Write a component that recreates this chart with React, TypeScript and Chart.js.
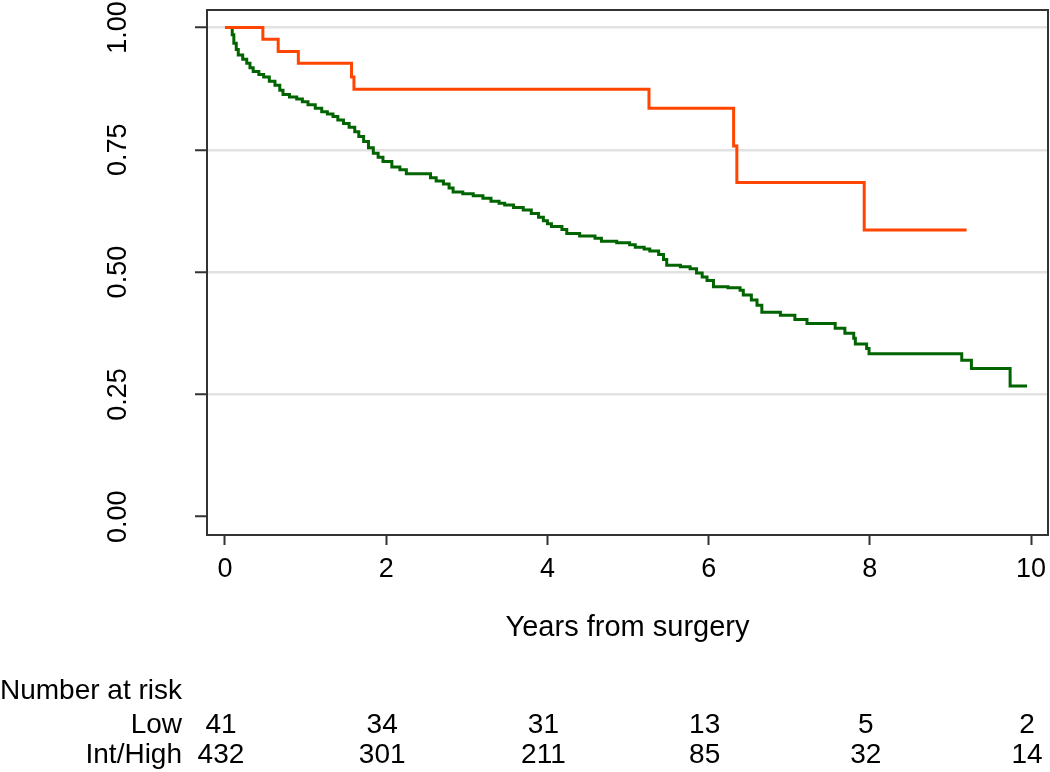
import React, { useEffect, useRef } from "react";
import { Chart, registerables } from "chart.js";

Chart.register(...registerables);

// Kaplan-Meier curve: Low risk group
const lowTimes = [0, 0.47, 0.66, 0.91, 1.57, 1.6, 5.26, 6.31, 6.35, 7.93, 9.2];
const lowSurv = [1, 0.976, 0.951, 0.927, 0.899, 0.874, 0.835, 0.758, 0.683, 0.586, 0.586];

// Kaplan-Meier curve: Int/High risk group
const highTimes = [
  0, 0.09, 0.11, 0.14, 0.165, 0.22, 0.27, 0.31, 0.35, 0.42, 0.48, 0.55, 0.62, 0.68, 0.72,
  0.8, 0.89, 0.96, 1.03, 1.12, 1.2, 1.27, 1.34, 1.4, 1.47, 1.54, 1.61, 1.66, 1.72, 1.78,
  1.84, 1.9, 1.96, 2.07, 2.17, 2.25, 2.55, 2.62, 2.71, 2.78, 2.83, 2.95, 3.08, 3.2, 3.3,
  3.4, 3.47, 3.58, 3.7, 3.8, 3.89, 3.95, 4.0, 4.05, 4.18, 4.24, 4.4, 4.59, 4.67, 4.86,
  5.02, 5.09, 5.2, 5.27, 5.38, 5.44, 5.48, 5.65, 5.77, 5.85, 5.92, 5.98, 6.06, 6.24, 6.39,
  6.43, 6.53, 6.6, 6.66, 6.89, 7.07, 7.22, 7.57, 7.69, 7.8, 7.82, 7.96, 7.99, 9.14, 9.26,
  9.74, 9.95,
];
const highSurv = [
  1, 0.985, 0.968, 0.955, 0.944, 0.935, 0.927, 0.918, 0.91, 0.904, 0.899, 0.89, 0.882, 0.872, 0.863,
  0.858, 0.854, 0.848, 0.842, 0.835, 0.828, 0.823, 0.818, 0.811, 0.804, 0.796, 0.787, 0.777, 0.767, 0.754,
  0.743, 0.735, 0.726, 0.715, 0.709, 0.701, 0.693, 0.686, 0.68, 0.672, 0.664, 0.66, 0.656, 0.651, 0.645,
  0.641, 0.637, 0.632, 0.627, 0.62, 0.612, 0.605, 0.599, 0.593, 0.587, 0.579, 0.574, 0.569, 0.563, 0.56,
  0.556, 0.551, 0.547, 0.543, 0.536, 0.526, 0.514, 0.511, 0.507, 0.498, 0.49, 0.483, 0.47, 0.468, 0.463,
  0.453, 0.443, 0.432, 0.418, 0.412, 0.403, 0.395, 0.385, 0.375, 0.365, 0.353, 0.344, 0.333, 0.32, 0.303,
  0.267, 0.267,
];

const xTicks = [0, 2, 4, 6, 8, 10];
const yTicks = [0, 0.25, 0.5, 0.75, 1];

const riskTitle = "Number at risk";
const riskGroups = ["Low", "Int/High"];
const riskTimes = [0, 2, 4, 6, 8, 10];
const riskLow = [41, 34, 31, 13, 5, 2];
const riskHigh = [432, 301, 211, 85, 32, 14];

const FONT = '"Liberation Sans", Arial, Helvetica, sans-serif';

export default function App() {
  const ref = useRef<HTMLCanvasElement | null>(null);

  useEffect(() => {
    if (!ref.current) return;
    Chart.defaults.font.family = FONT;

    const extras = {
      id: "extras",
      afterDraw(chart: any) {
        const { ctx, chartArea: a, scales } = chart;
        ctx.save();
        ctx.strokeStyle = "#333333";
        ctx.lineWidth = 2;
        ctx.strokeRect(a.left, a.top, a.right - a.left, a.bottom - a.top);

        ctx.fillStyle = "#000000";
        ctx.font = `28px ${FONT}`;
        ctx.textBaseline = "middle";
        ctx.textAlign = "left";
        ctx.fillText(riskTitle, 0, 691);
        ctx.textAlign = "right";
        ctx.fillText(riskGroups[0], 182, 725);
        ctx.fillText(riskGroups[1], 182, 755);
        ctx.textAlign = "center";
        riskTimes.forEach((t, i) => {
          const x = scales.x.getPixelForValue(t) - 4;
          ctx.fillText(String(riskLow[i]), x, 725);
          ctx.fillText(String(riskHigh[i]), x, 755);
        });
        ctx.restore();
      },
    };

    const chart = new Chart(ref.current, {
      type: "line",
      data: {
        datasets: [
          {
            label: "Low",
            data: lowTimes.map((t, i) => ({ x: t, y: lowSurv[i] })),
            borderColor: "rgb(255,69,0)",
            borderWidth: 3,
            pointRadius: 0,
            stepped: true,
            fill: false,
          },
          {
            label: "Int/High",
            data: highTimes.map((t, i) => ({ x: t, y: highSurv[i] })),
            borderColor: "rgb(0,100,0)",
            borderWidth: 3,
            pointRadius: 0,
            stepped: true,
            fill: false,
          },
        ],
      },
      options: {
        responsive: false,
        animation: false,
        devicePixelRatio: 1,
        layout: { padding: { left: 0, right: 2, top: 10, bottom: 0 } },
        plugins: { legend: { display: false }, tooltip: { enabled: false } },
        scales: {
          x: {
            type: "linear",
            min: -0.223,
            max: 10.21,
            afterBuildTicks: (s: any) => {
              s.ticks = xTicks.map((v) => ({ value: v }));
            },
            afterFit: (s: any) => {
              s.height = 237;
              s.paddingLeft = 0;
              s.paddingRight = 0;
            },
            border: { display: false },
            grid: {
              drawOnChartArea: false,
              drawTicks: true,
              tickLength: 10,
              tickColor: "#333333",
              tickWidth: 2,
            },
            ticks: {
              color: "#000000",
              font: { size: 27 },
              padding: 8,
              maxRotation: 0,
              minRotation: 0,
              callback: (v: any) => String(v),
            },
            title: {
              display: true,
              text: "Years from surgery",
              color: "#000000",
              font: { size: 29 },
              padding: { top: 0, bottom: 127 },
            },
          },
          y: {
            type: "linear",
            min: -0.0374,
            max: 1.0358,
            afterBuildTicks: (s: any) => {
              s.ticks = yTicks.map((v) => ({ value: v }));
            },
            afterFit: (s: any) => {
              s.width = 207;
              s.paddingTop = 0;
              s.paddingBottom = 0;
            },
            border: { display: false },
            grid: {
              color: (c: any) => (c.tick && c.tick.value === 0 ? "rgba(0,0,0,0)" : "#e2e2e2"),
              lineWidth: 2.5,
              drawTicks: true,
              tickLength: 12,
              tickColor: "#333333",
              tickWidth: 2,
            },
            ticks: {
              color: "#000000",
              font: { size: 27 },
              padding: 50,
              crossAlign: "center",
              minRotation: 90,
              maxRotation: 90,
              callback: (v: any) => Number(v).toFixed(2),
            },
          },
        },
      },
      plugins: [extras],
    } as any);

    return () => chart.destroy();
  }, []);

  return (
    <div style={{ position: "absolute", left: 0, top: 0, width: 1050, height: 772, background: "#fff" }}>
      <canvas ref={ref} width={1050} height={772} />
    </div>
  );
}
